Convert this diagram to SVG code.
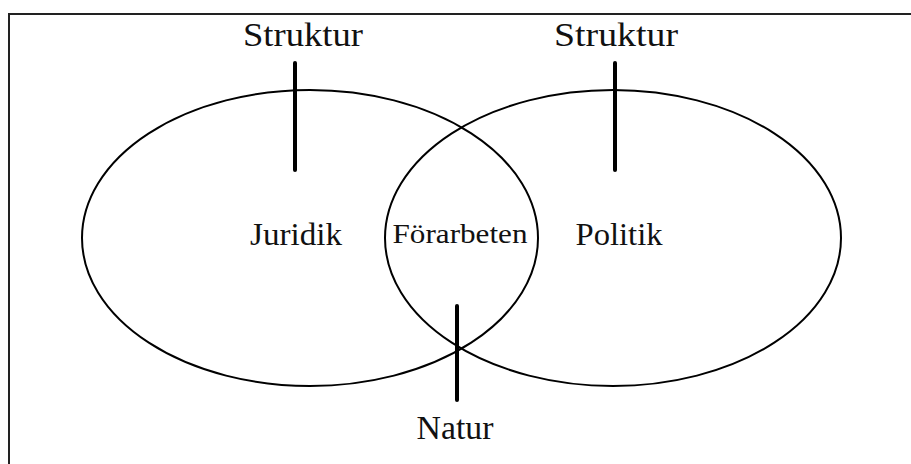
<svg xmlns="http://www.w3.org/2000/svg" width="911" height="464" viewBox="0 0 911 464">
<style>
.frame{fill:none;stroke:#222;stroke-width:2}
.ell{fill:none;stroke:#000;stroke-width:2}
.bar{stroke:#000;stroke-width:4;stroke-linecap:round}
.t{font-family:"Liberation Serif","DejaVu Serif",serif;fill:#111;text-anchor:middle}
</style>
<rect width="911" height="464" fill="#fff"/>
<rect class="frame" x="9" y="14" width="1000" height="1000"/>
<g id="juridik">
<ellipse class="ell" cx="310" cy="238" rx="228" ry="148"/>
<text class="t" x="296" y="245" font-size="32" textLength="92" lengthAdjust="spacingAndGlyphs">Juridik</text>
</g>
<g id="politik">
<ellipse class="ell" cx="613" cy="238" rx="228" ry="148"/>
<text class="t" x="619" y="245" font-size="32" textLength="87" lengthAdjust="spacingAndGlyphs">Politik</text>
</g>
<g id="forarbeten">
<text class="t" x="460" y="243" font-size="27" textLength="135" lengthAdjust="spacingAndGlyphs">Förarbeten</text>
</g>
<g id="struktur1">
<text class="t" x="303" y="46" font-size="34" textLength="120" lengthAdjust="spacingAndGlyphs">Struktur</text>
</g>
<g id="struktur2">
<text class="t" x="616" y="46" font-size="34" textLength="124" lengthAdjust="spacingAndGlyphs">Struktur</text>
</g>
<g id="natur">
<text class="t" x="455" y="439" font-size="34" textLength="77" lengthAdjust="spacingAndGlyphs">Natur</text>
</g>
<g id="connectors">
<line class="bar" x1="295" y1="63" x2="295" y2="170"/>
<line class="bar" x1="615" y1="63" x2="615" y2="170"/>
<line class="bar" x1="457" y1="306" x2="457" y2="400"/>
</g>
</svg>
